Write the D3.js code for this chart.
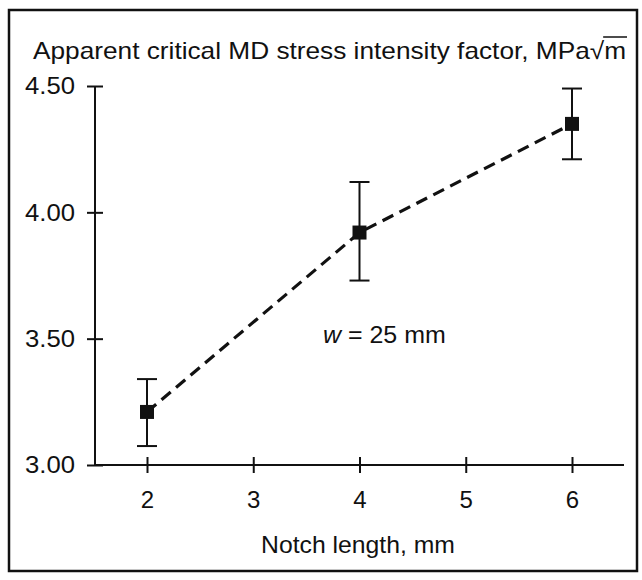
<!DOCTYPE html>
<html>
<head>
<meta charset="utf-8">
<style>
  body { margin: 0; background: #fff; }
  text { font-family: "Liberation Sans", Arial, sans-serif; fill: #111; }
</style>
</head>
<body>
<div id="chart"></div>
<script src="https://d3js.org/d3.v7.min.js"></script>
<script>
    const width = 642;
    const height = 580;

    // data
    const notchLengths = [2, 4, 6];
    const kValues = [3.21, 3.92, 4.35];
    const errLow = [3.075, 3.73, 4.21];
    const errHigh = [3.34, 4.12, 4.49];
    const xTicks = [2, 3, 4, 5, 6];
    const yTicks = [3.0, 3.5, 4.0, 4.5];

    const svg = d3.select("#chart")
        .append("svg")
        .attr("width", width)
        .attr("height", height);

    // the original lettering is a little wider than Liberation Sans
    function stretch(sel, factor) {
        sel.each(function () {
            const w = this.getComputedTextLength();
            d3.select(this).attr("textLength", w * factor).attr("lengthAdjust", "spacingAndGlyphs");
        });
    }

    // outer frame
    svg.append("rect")
        .attr("x", 9).attr("y", 10)
        .attr("width", 628).attr("height", 561)
        .attr("fill", "none")
        .attr("stroke", "#111")
        .attr("stroke-width", 2.5);

    const x = d3.scaleLinear().domain([2, 6]).range([147, 572]);
    const y = d3.scaleLinear().domain([3, 4.5]).range([465, 86]);
    const axisLeftX = 95;
    const axisRightX = 624;

    // x axis
    const xAxis = svg.append("g")
        .attr("transform", `translate(0,${y(3)})`)
        .call(d3.axisBottom(x).tickValues(xTicks).tickFormat(d3.format("d")).tickSize(0).tickPadding(26));
    xAxis.select(".domain").remove();
    xAxis.append("line")
        .attr("x1", axisLeftX).attr("x2", axisRightX)
        .attr("stroke", "#111").attr("stroke-width", 2);
    xAxis.selectAll(".tick").append("line")
        .attr("y1", -8).attr("y2", 8)
        .attr("stroke", "#111").attr("stroke-width", 2);
    xAxis.selectAll(".tick text")
        .attr("font-size", 24)
        .attr("font-family", "Liberation Sans, Arial, sans-serif")
        .attr("fill", "#111");

    // y axis
    const yAxis = svg.append("g")
        .attr("transform", `translate(${axisLeftX},0)`)
        .call(d3.axisLeft(y).tickValues(yTicks).tickFormat(d3.format(".2f")).tickSize(0).tickPadding(20));
    yAxis.select(".domain").remove();
    yAxis.append("line")
        .attr("y1", y(4.5)).attr("y2", y(3))
        .attr("stroke", "#111").attr("stroke-width", 2);
    yAxis.selectAll(".tick").append("line")
        .attr("x1", -8).attr("x2", 8)
        .attr("stroke", "#111").attr("stroke-width", 2);
    yAxis.selectAll(".tick text")
        .attr("font-size", 24)
        .attr("font-family", "Liberation Sans, Arial, sans-serif")
        .attr("fill", "#111");
    stretch(yAxis.selectAll(".tick text"), 1.07);

    // dashed line through the points
    const points = notchLengths.map((n, i) => ({ n, k: kValues[i], lo: errLow[i], hi: errHigh[i] }));
    const line = d3.line().x(d => x(d.n)).y(d => y(d.k));
    svg.append("path")
        .datum(points)
        .attr("d", line)
        .attr("fill", "none")
        .attr("stroke", "#111")
        .attr("stroke-width", 3.2)
        .attr("stroke-dasharray", "12,7");

    // error bars
    const capHalf = 10;
    const bars = svg.append("g").selectAll("g").data(points).join("g");
    bars.append("line")
        .attr("x1", d => x(d.n)).attr("x2", d => x(d.n))
        .attr("y1", d => y(d.hi)).attr("y2", d => y(d.lo))
        .attr("stroke", "#111").attr("stroke-width", 2);
    bars.append("line")
        .attr("x1", d => x(d.n) - capHalf).attr("x2", d => x(d.n) + capHalf)
        .attr("y1", d => y(d.hi)).attr("y2", d => y(d.hi))
        .attr("stroke", "#111").attr("stroke-width", 2);
    bars.append("line")
        .attr("x1", d => x(d.n) - capHalf).attr("x2", d => x(d.n) + capHalf)
        .attr("y1", d => y(d.lo)).attr("y2", d => y(d.lo))
        .attr("stroke", "#111").attr("stroke-width", 2);

    // square markers
    const sq = 14;
    svg.append("g").selectAll("rect").data(points).join("rect")
        .attr("x", d => x(d.n) - sq / 2)
        .attr("y", d => y(d.k) - sq / 2)
        .attr("width", sq).attr("height", sq)
        .attr("fill", "#111");

    // title with square-root unit
    const title = svg.append("text")
        .attr("x", 33).attr("y", 59)
        .attr("font-size", 24);
    title.append("tspan").text("Apparent critical MD stress intensity factor, MPa");
    title.append("tspan").text("√");
    const mSpan = title.append("tspan").text("m");
    title.attr("textLength", 593).attr("lengthAdjust", "spacingAndGlyphs");
    const mBox = mSpan.node().getExtentOfChar(0);
    svg.append("line")
        .attr("x1", mBox.x - 1).attr("x2", mBox.x + mBox.width + 1)
        .attr("y1", 37).attr("y2", 37)
        .attr("stroke", "#111").attr("stroke-width", 1.5);

    // annotation
    const note = svg.append("text")
        .attr("x", 323).attr("y", 343)
        .attr("font-size", 24);
    note.append("tspan").attr("font-style", "italic").text("w");
    note.append("tspan").text(" = 25 mm");
    stretch(note, 1.04);

    // x axis title
    const xTitle = svg.append("text")
        .attr("x", 358).attr("y", 553)
        .attr("text-anchor", "middle")
        .attr("font-size", 24)
        .text("Notch length, mm");
    stretch(xTitle, 1.03);
</script>
</body>
</html>
